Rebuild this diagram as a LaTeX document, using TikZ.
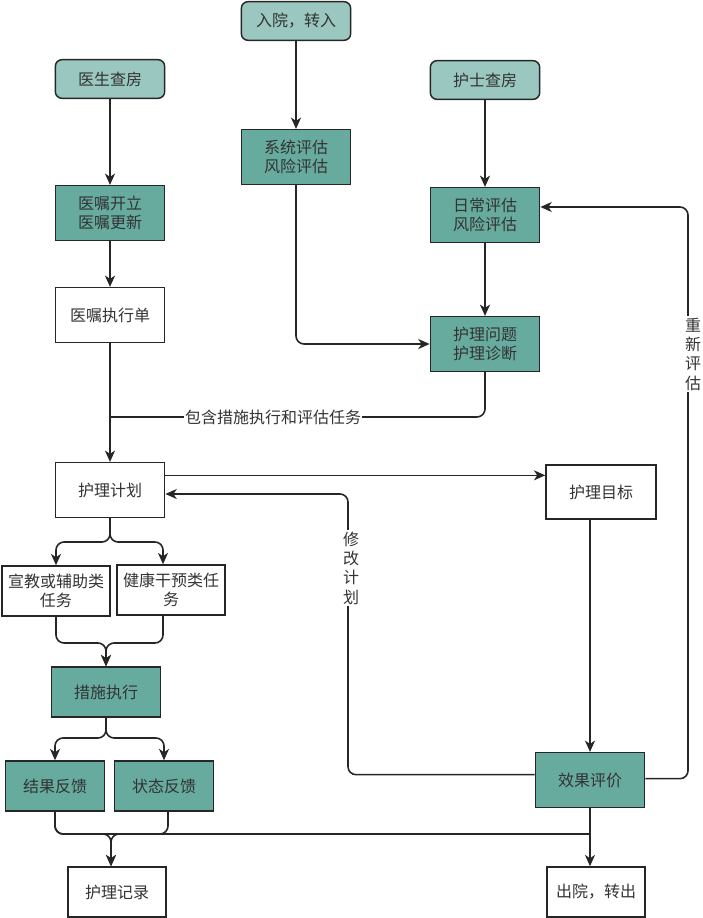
\documentclass[tikz,border=0pt]{standalone}
\usepackage{fontspec}
\setmainfont{Noto Sans CJK SC}
\usepackage{xcolor}
\usepackage{tikz}
\usetikzlibrary{positioning,arrows.meta}

\definecolor{tealLite}{HTML}{9AC7BF}
\definecolor{tealDark}{HTML}{67AB9F}

\tikzset{
  box/.style={draw=black!85, line width=1.1pt, align=center, text=black!80,
    inner sep=2pt, minimum width=82pt, minimum height=41pt},
  roundbox/.style={box, fill=tealLite, rounded corners=5pt, minimum height=29pt},
  darkbox/.style={box, fill=tealDark},
  whitebox/.style={box, fill=white},
  smallbox/.style={minimum width=81pt, minimum height=37.5pt},
  endbox/.style={whitebox, line width=1.6pt, minimum width=74pt, minimum height=37pt},
  flow/.style={draw=black!85, line width=1.2pt, rounded corners=6pt,
    -{Stealth[length=8.5pt,width=7.5pt,inset=2.5pt]}},
  link/.style={draw=black!85, line width=1.2pt, rounded corners=6pt},
  tag/.style={fill=white, inner sep=1pt, align=center, text=black!80}
}

\begin{document}
\begin{tikzpicture}[x=0.75pt, y=-0.75pt, font=\fontsize{12}{14.5}\selectfont]
  \useasboundingbox (0,0) rectangle (703,918);
  % entry points
  \node[roundbox] (docRound) at (110,79) {医生查房};
  \node[roundbox] (admit) at (296,21) {入院，转入};
  \node[roundbox] (nurseRound) at (485,80) {护士查房};
  % assessment and orders
  \node[darkbox] (order) at (110,213) {医嘱开立\\医嘱更新};
  \node[darkbox] (sysEval) at (296,157) {系统评估\\风险评估};
  \node[darkbox] (dayEval) at (485,215) {日常评估\\风险评估};
  \node[whitebox] (orderSheet) at (110,315) {医嘱执行单};
  \node[darkbox] (diag) at (485,344) {护理问题\\护理诊断};
  % plan, tasks, execution
  \node[whitebox] (plan) at (110,490) {护理计划};
  \node[whitebox, line width=1.6pt] (goal) at (601,492) {护理目标};
  \node[whitebox, smallbox] (eduTask) at (56,591) {宣教或辅助类\\任务};
  \node[whitebox, smallbox] (careTask) at (171,590) {健康干预类任\\务};
  \node[darkbox, minimum height=37.5pt] (act) at (106,692) {措施执行};
  \node[darkbox, minimum width=74pt, minimum height=37.5pt] (resFb) at (55,786) {结果反馈};
  \node[darkbox, minimum width=74pt, minimum height=37.5pt] (stateFb) at (164,786) {状态反馈};
  \node[darkbox] (evalEff) at (590,780) {效果评价};
  % outputs
  \node[endbox] (record) at (117,892) {护理记录};
  \node[endbox] (discharge) at (596,892) {出院，转出};

  \coordinate (includeJoin) at (110,417);
  \coordinate (taskSplit) at (110,542);
  \coordinate (taskJoin) at (106,643);
  \coordinate (actSplit) at (106,738);
  \coordinate (fbJoin) at (111,834);
  \coordinate (reviseTurn) at (348,494);
  \coordinate (reassessTurn) at (688,207);

  % top part
  \draw[flow] (docRound) -- (order);
  \draw[flow] (order) -- (orderSheet);
  \draw[flow] (admit) -- (sysEval);
  \draw[flow] (nurseRound) -- (dayEval);
  \draw[flow] (dayEval) -- (diag);
  \draw[flow] (sysEval.south) |- (diag.west);
  \draw[flow] (orderSheet) -- (plan);
  \draw[link] (diag.south) |- (includeJoin);
  \node[tag] (includeTag) at (273,417) {包含措施执行和评估任务};
  % plan and goal
  \draw[flow] ([yshift=11pt]plan.east) -- ([yshift=11pt]plan.east -| goal.west);
  \draw[flow] (evalEff.north |- goal.south) -- (evalEff.north);
  % tasks
  \draw[flow] (plan.south) -- (taskSplit) -| (eduTask.north);
  \draw[flow] (plan.south) -- (taskSplit) -| ([xshift=-6pt]careTask.north);
  \draw[flow] (eduTask.south) |- (taskJoin) -- (act.north);
  \draw[flow] ([xshift=-6pt]careTask.south) |- (taskJoin) -- (act.north);
  \draw[flow] (act.south) -- (actSplit) -| (resFb.north);
  \draw[flow] (act.south) -- (actSplit) -| (stateFb.north);
  \draw[flow] (resFb.south) |- (fbJoin) -- (fbJoin |- record.north);
  \draw[flow] ([xshift=3pt]stateFb.south) |- (fbJoin) -- (fbJoin |- record.north);
  \draw[link] (resFb.south) |- (evalEff.south |- fbJoin);
  \draw[flow] (evalEff.south) -- (evalEff.south |- discharge.north);
  % feedback loops
  \draw[flow] ([yshift=4pt]evalEff.west) -| (reviseTurn) -- (reviseTurn -| plan.east);
  \node[tag] (reviseTag) at (351,568) {修\\改\\计\\划};
  \draw[flow] ([yshift=1pt]evalEff.east) -| (reassessTurn) -- (reassessTurn -| dayEval.east);
  \node[tag] (reassessTag) at (693,354) {重\\新\\评\\估};
\end{tikzpicture}
\end{document}
